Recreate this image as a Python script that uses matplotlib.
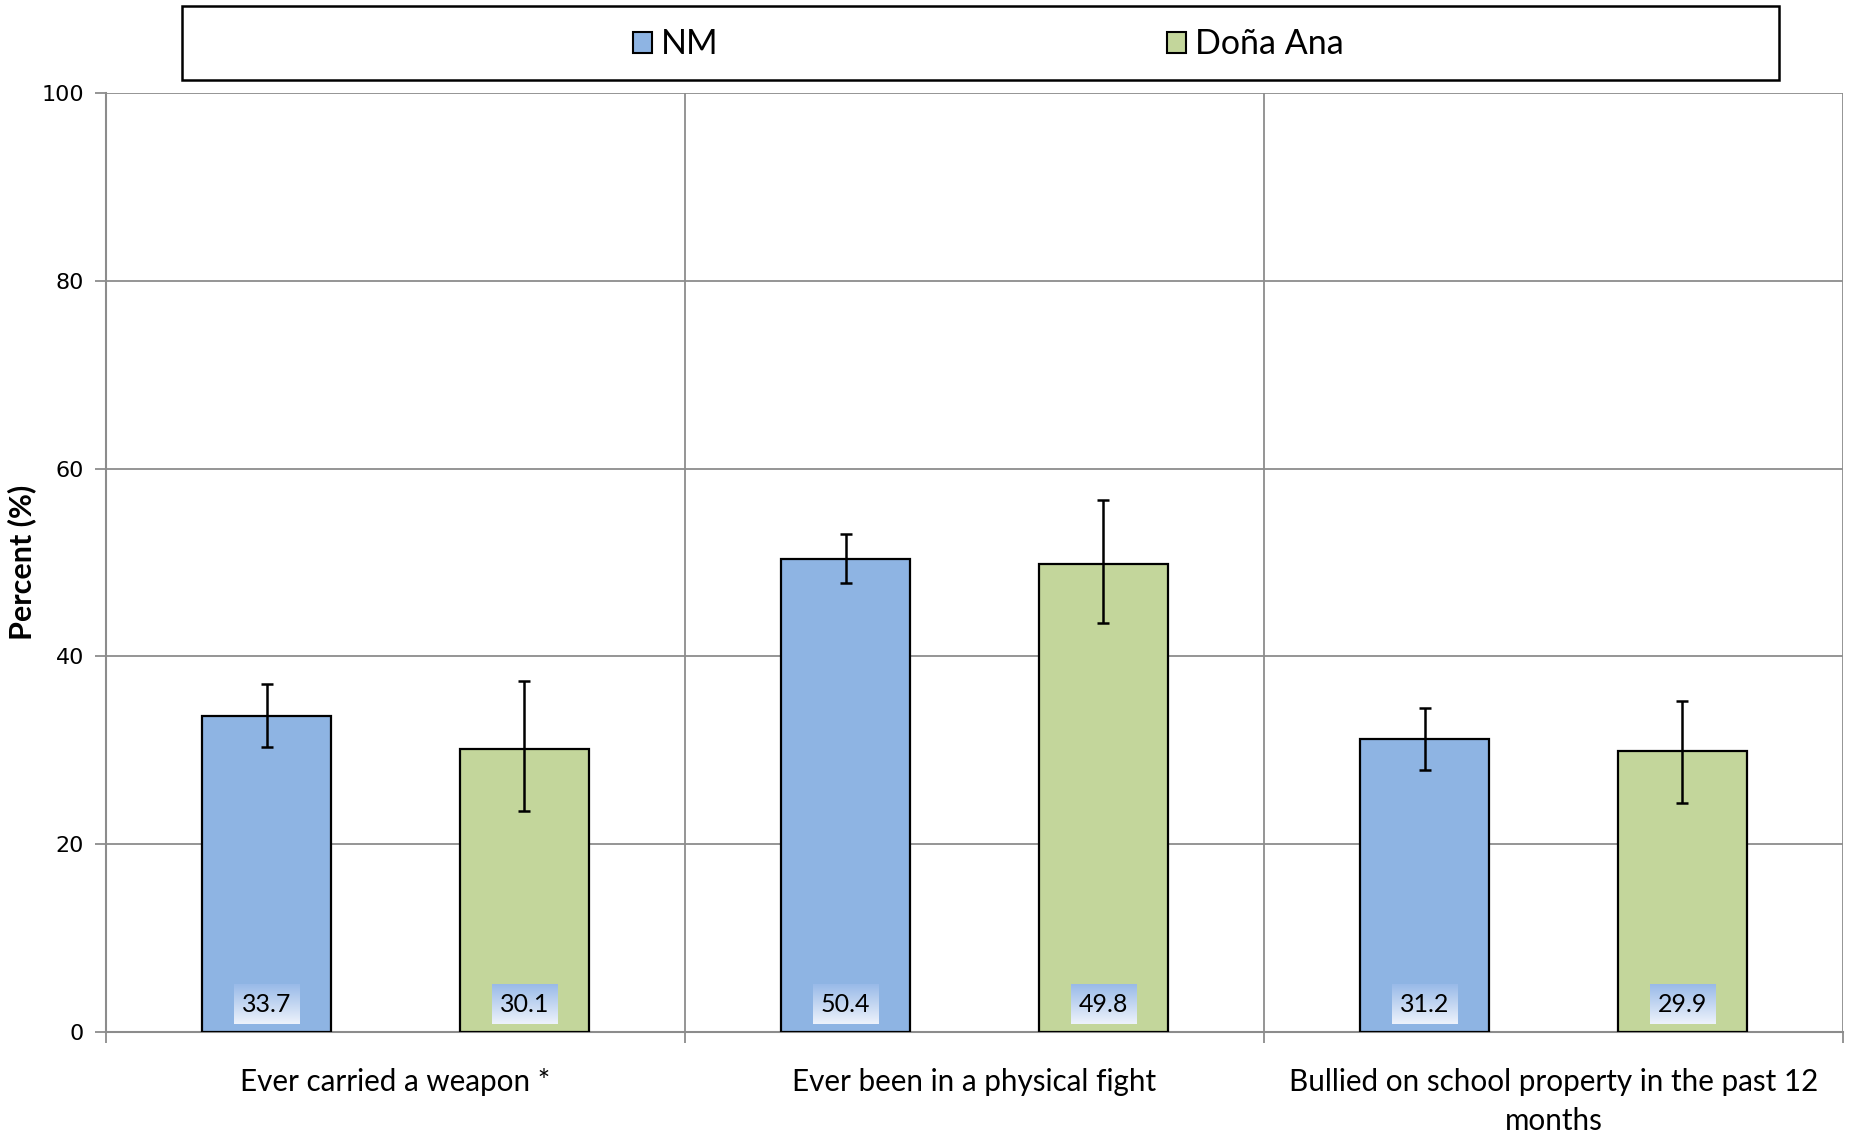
import numpy as np
import matplotlib
matplotlib.use("Agg")
import matplotlib.pyplot as plt
from matplotlib.patches import Rectangle, Patch

categories = ["Ever carried a weapon *", "Ever been in a physical fight",
              "Bullied on school property in the past 12\nmonths"]
series_names = ["NM", "Doña Ana"]
nm_values = [33.7, 50.4, 31.2]
nm_low = [30.4, 47.8, 27.9]
nm_high = [37.1, 53.0, 34.5]
da_values = [30.1, 49.8, 29.9]
da_low = [23.5, 43.6, 24.4]
da_high = [37.4, 56.7, 35.3]
y_ticks = [0, 20, 40, 60, 80, 100]

blue = "#8eb4e3"
green = "#c3d69b"
grid_col = "#8c8c8c"
font = ["Lato", "DejaVu Sans"]

fig = plt.figure(figsize=(18.51, 11.38), dpi=100)
ax = fig.add_axes([0.0573, 0.0931, 0.9384, 0.8252])

x = np.arange(len(categories))
w = 0.2224
series = [(nm_values, nm_low, nm_high, blue, -w), (da_values, da_low, da_high, green, w)]
labels = []
for vals, lo, hi, col, off in series:
    vals = np.array(vals)
    err = [vals - np.array(lo), np.array(hi) - vals]
    ax.bar(x + off, vals, width=w, color=col, edgecolor="black", linewidth=1.6, zorder=3)
    ax.errorbar(x + off, vals, yerr=err, fmt="none", ecolor="black", elinewidth=1.8,
                capsize=4.5, capthick=1.8, zorder=4)
    for xi, v in zip(x + off, vals):
        t = ax.annotate(f"{v:.1f}", xy=(xi, 0), xytext=(0, 19.5), textcoords="offset points",
                        ha="center", va="center", fontsize=18, family=font, zorder=6,
                        bbox=dict(boxstyle="square,pad=0.32", fc="none", ec="none"))
        labels.append(t)

ax.set_xlim(-0.5, 2.5)
ax.set_ylim(0, 100)
ax.set_yticks(y_ticks)
ax.set_yticklabels([str(t) for t in y_ticks], fontsize=16, family="DejaVu Sans")
ax.set_xticks([-0.5, 0.5, 1.5, 2.5])
ax.set_xticklabels([])
ax.set_xticks(x, minor=True)
ax.set_xticklabels(categories, minor=True, fontsize=21.3, family=font, linespacing=1.45)
ax.tick_params(axis="x", which="minor", length=0, pad=26)
ax.tick_params(axis="x", which="major", length=8, color=grid_col, width=1.3)
ax.tick_params(axis="y", length=8, color=grid_col, width=1.3, pad=8)
ax.grid(True, which="major", color=grid_col, linewidth=1.3, zorder=0)
ax.set_axisbelow(True)
for s in ["top", "right"]:
    ax.spines[s].set_visible(False)
for s in ["left", "bottom"]:
    ax.spines[s].set_color(grid_col)
    ax.spines[s].set_linewidth(1.5)

ax.set_ylabel("Percent (%)", fontsize=22, fontweight="bold", family=font, labelpad=4)

# gradient boxes behind the value labels
fig.canvas.draw()
renderer = fig.canvas.get_renderer()
grad = np.linspace(0, 1, 64).reshape(-1, 1)
top_c = np.array([0.60, 0.73, 0.91])
bot_c = np.array([0.93, 0.95, 0.985])
img = (top_c[None, None, :] * (1 - grad[:, :, None]) + bot_c[None, None, :] * grad[:, :, None])
inv = ax.transData.inverted()
for t in labels:
    bb = t.get_bbox_patch().get_window_extent(renderer)
    (x0, y0), (x1, y1) = inv.transform([[bb.x0, bb.y0], [bb.x1, bb.y1]])
    ax.imshow(img, extent=(x0, x1, y0, y1), origin="upper", aspect="auto", zorder=5)
ax.set_xlim(-0.5, 2.5)
ax.set_ylim(0, 100)

# legend box
fig.patches.append(Rectangle((182 / 1851, 1 - 80 / 1138), (1779 - 182) / 1851, 74 / 1138,
                             transform=fig.transFigure, fill=False, ec="black", lw=1.8))
handles = [Patch(fc=blue, ec="black", lw=1.5), Patch(fc=green, ec="black", lw=1.5)]
fig.legend(handles, series_names, loc="center", bbox_to_anchor=(0.534, 0.961), ncol=2,
           frameon=False, prop={"family": font, "size": 24.5}, handlelength=0.55,
           handleheight=0.55, handletextpad=0.25, columnspacing=13.2)

fig.savefig("out.png", dpi=100)
